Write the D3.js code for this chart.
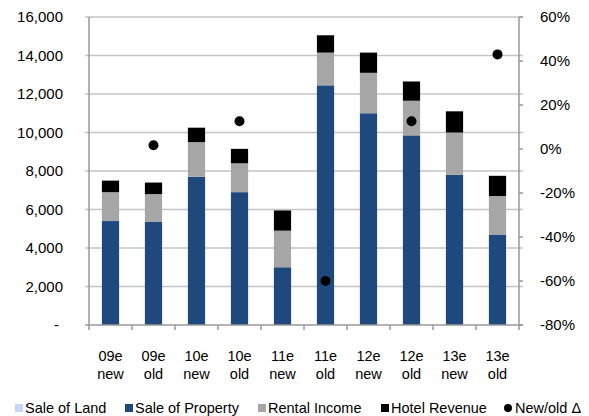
<!DOCTYPE html>
<html>
<head>
<meta charset="utf-8">
<script src="https://cdn.jsdelivr.net/npm/d3@7"></script>
<style>
  body { margin: 0; background: #fff; }
  svg { font-family: "Liberation Sans", Arial, sans-serif; }
</style>
</head>
<body>
<div id="chartDiv"></div>
<script>
// values
var categories = ["09e new", "09e old", "10e new", "10e old", "11e new", "11e old", "12e new", "12e old", "13e new", "13e old"];
var saleOfLand = [0, 0, 0, 0, 0, 0, 0, 0, 0, 0];
var saleOfProperty = [5400, 5350, 7700, 6900, 3000, 12450, 11000, 9850, 7800, 4700];
var rentalIncome = [1500, 1450, 1800, 1500, 1900, 1700, 2100, 1800, 2200, 2000];
var hotelRevenue = [600, 600, 750, 750, 1050, 900, 1050, 1000, 1100, 1050];
var newOldDelta = [null, 0.017, null, 0.126, null, -0.60, null, 0.126, null, 0.43];
var leftTicks = [0, 2000, 4000, 6000, 8000, 10000, 12000, 14000, 16000];
var rightTicks = [-0.8, -0.6, -0.4, -0.2, 0, 0.2, 0.4, 0.6];

var width = 589, height = 416;
var plot = { left: 89, right: 519, top: 17, bottom: 325 };

var svg = d3.select("#chartDiv")
    .append("svg")
    .attr("width", width)
    .attr("height", height);

var x = d3.scaleBand()
    .domain(categories)
    .range([plot.left, plot.right])
    .padding(0);
var y = d3.scaleLinear().domain([0, 16000]).range([plot.bottom, plot.top]);
var y2 = d3.scaleLinear().domain([-0.8, 0.6]).range([plot.bottom, plot.top]);

var series = [
    { key: "land", name: "Sale of Land", values: saleOfLand, color: "#c6d9f1" },
    { key: "property", name: "Sale of Property", values: saleOfProperty, color: "#1f497d" },
    { key: "rental", name: "Rental Income", values: rentalIncome, color: "#a6a6a6" },
    { key: "hotel", name: "Hotel Revenue", values: hotelRevenue, color: "#000000" }
];

var rows = categories.map(function (c, i) {
    var r = { cat: c };
    series.forEach(function (s) { r[s.key] = s.values[i]; });
    return r;
});
var stacked = d3.stack().keys(series.map(function (s) { return s.key; }))(rows);

// gridlines
svg.append("g")
    .selectAll("line")
    .data(leftTicks.slice(1))
    .enter().append("line")
    .attr("x1", plot.left - 4)
    .attr("x2", plot.right + 4)
    .attr("y1", function (d) { return y(d); })
    .attr("y2", function (d) { return y(d); })
    .style("stroke", "#c4c4c4")
    .style("stroke-width", 1.5);

// bars
var barW = x.bandwidth() * 0.4;
svg.append("g")
    .selectAll("g")
    .data(stacked)
    .enter().append("g")
    .attr("fill", function (d, i) { return series[i].color; })
    .selectAll("rect")
    .data(function (d) { return d; })
    .enter().append("rect")
    .attr("x", function (d) { return x(d.data.cat) + (x.bandwidth() - barW) / 2; })
    .attr("width", barW)
    .attr("y", function (d) { return y(d[1]); })
    .attr("height", function (d) { return y(d[0]) - y(d[1]); });

// axes lines
var axisColor = "#999999";
svg.append("line")
    .attr("x1", plot.left).attr("x2", plot.left)
    .attr("y1", plot.top).attr("y2", plot.bottom)
    .style("stroke", axisColor).style("stroke-width", 1.5);
svg.append("line")
    .attr("x1", plot.right).attr("x2", plot.right)
    .attr("y1", plot.top).attr("y2", plot.bottom)
    .style("stroke", axisColor).style("stroke-width", 1.5);
svg.append("line")
    .attr("x1", plot.left - 4).attr("x2", plot.right + 4)
    .attr("y1", plot.bottom).attr("y2", plot.bottom)
    .style("stroke", axisColor).style("stroke-width", 1.5);

// right axis ticks
svg.append("g")
    .selectAll("line")
    .data(rightTicks)
    .enter().append("line")
    .attr("x1", plot.right)
    .attr("x2", plot.right + 4)
    .attr("y1", function (d) { return y2(d); })
    .attr("y2", function (d) { return y2(d); })
    .style("stroke", axisColor).style("stroke-width", 1.5);

// bottom ticks at band edges
var edges = categories.map(function (c) { return x(c); }).concat([plot.right]);
svg.append("g")
    .selectAll("line")
    .data(edges)
    .enter().append("line")
    .attr("x1", function (d) { return d; })
    .attr("x2", function (d) { return d; })
    .attr("y1", plot.bottom)
    .attr("y2", plot.bottom + 5)
    .style("stroke", axisColor).style("stroke-width", 1.5);

// left labels
svg.append("g")
    .selectAll("text")
    .data(leftTicks)
    .enter().append("text")
    .attr("x", function (d) { return d === 0 ? 59 : 63; })
    .attr("y", function (d) { return y(d); })
    .attr("dy", "0.36em")
    .attr("text-anchor", "end")
    .style("font-size", "15px")
    .text(function (d) { return d === 0 ? "-" : d3.format(",")(d); });

// right labels (plain hyphen like the original)
svg.append("g")
    .selectAll("text")
    .data(rightTicks)
    .enter().append("text")
    .attr("x", 540)
    .attr("y", function (d) { return y2(d); })
    .attr("dy", "0.36em")
    .style("font-size", "15px")
    .text(function (d) { return d3.format(".0%")(d).replace("\u2212", "-"); });

// category labels, two lines
var catText = svg.append("g")
    .selectAll("text")
    .data(categories)
    .enter().append("text")
    .attr("text-anchor", "middle")
    .style("font-size", "14.5px");
catText.append("tspan")
    .attr("x", function (d) { return x(d) + x.bandwidth() / 2; })
    .attr("y", 361)
    .text(function (d) { return d.split(" ")[0]; });
catText.append("tspan")
    .attr("x", function (d) { return x(d) + x.bandwidth() / 2; })
    .attr("y", 379)
    .text(function (d) { return d.split(" ")[1]; });

// new/old delta dots
svg.append("g")
    .selectAll("circle")
    .data(categories.map(function (c, i) { return { cat: c, v: newOldDelta[i] }; })
        .filter(function (d) { return d.v !== null; }))
    .enter().append("circle")
    .attr("cx", function (d) { return x(d.cat) + x.bandwidth() / 2; })
    .attr("cy", function (d) { return y2(d.v); })
    .attr("r", 5)
    .style("fill", "#000");

// legend
var legendItems = [
    { name: "Sale of Land", color: "#c6d9f1", shape: "rect", x: 15 },
    { name: "Sale of Property", color: "#1f497d", shape: "rect", x: 125 },
    { name: "Rental Income", color: "#a6a6a6", shape: "rect", x: 258 },
    { name: "Hotel Revenue", color: "#000000", shape: "rect", x: 381 },
    { name: "New/old \u0394", color: "#000000", shape: "circle", x: 504 }
];
var legend = svg.append("g")
    .selectAll("g")
    .data(legendItems)
    .enter().append("g")
    .attr("transform", function (d) { return "translate(" + d.x + ",408)"; });
legend.filter(function (d) { return d.shape === "rect"; })
    .append("rect")
    .attr("x", 0).attr("y", -4)
    .attr("width", 8).attr("height", 8)
    .style("fill", function (d) { return d.color; });
legend.filter(function (d) { return d.shape === "circle"; })
    .append("circle")
    .attr("cx", 4).attr("cy", 0).attr("r", 4)
    .style("fill", "#000");
legend.append("text")
    .attr("x", function (d) { return d.shape === "circle" ? 11 : 10; })
    .attr("y", 0)
    .attr("dy", "0.36em")
    .style("font-size", "14.5px")
    .text(function (d) { return d.name; });
</script>
</body>
</html>
